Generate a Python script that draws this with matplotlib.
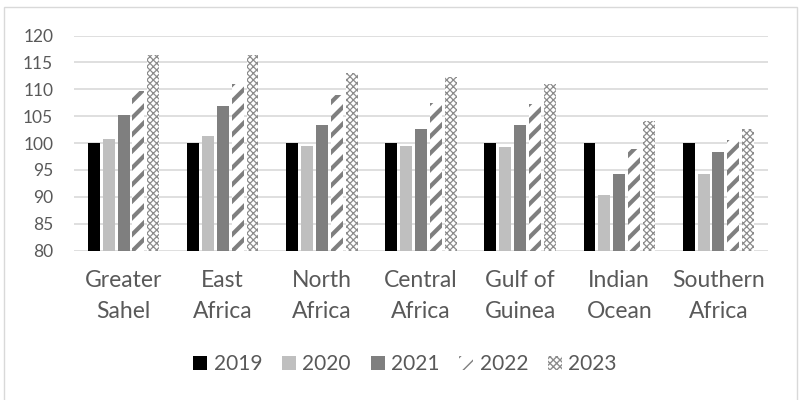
import matplotlib
matplotlib.use("Agg")
import matplotlib.pyplot as plt
import numpy as np
from matplotlib.patches import Rectangle

plt.rcParams['font.family'] = ['Lato', 'DejaVu Sans']

regions = ["Greater\nSahel", "East\nAfrica", "North\nAfrica", "Central\nAfrica",
           "Gulf of\nGuinea", "Indian\nOcean", "Southern\nAfrica"]
years = ["2019", "2020", "2021", "2022", "2023"]
v2019 = [100, 100, 100, 100, 100, 100, 100]
v2020 = [100.7, 101.3, 99.5, 99.5, 99.2, 90.3, 94.2]
v2021 = [105.2, 106.9, 103.4, 102.6, 103.4, 94.2, 98.3]
v2022 = [109.7, 111.0, 108.9, 107.4, 107.2, 98.9, 100.6]
v2023 = [116.4, 116.3, 113.0, 112.3, 111.0, 104.1, 102.7]
yticks = [80, 85, 90, 95, 100, 105, 110, 115, 120]

series = [v2019, v2020, v2021, v2022, v2023]
# (face colour, hatch colour, hatch pattern, hatch line width)
styles = [
    ("#000000", "#000000", None, 1.0),
    ("#BFBFBF", "#BFBFBF", None, 1.0),
    ("#7F7F7F", "#7F7F7F", None, 1.0),
    ("#FFFFFF", "#7F7F7F", "//", 3.0),
    ("#FFFFFF", "#8C8C8C", "xxxxx", 0.9),
]

fig = plt.figure(figsize=(7.99, 4.00), dpi=100)
ax = fig.add_axes([74 / 799, 1 - 250.7 / 400, (768 - 74) / 799, (250.7 - 35.5) / 400])

x = np.arange(len(regions))
width = 0.12
pitch = 0.15
handles = []
for i, (vals, yr, st) in enumerate(zip(series, years, styles)):
    face, hcol, hatch, hlw = st
    with plt.rc_context({'hatch.linewidth': hlw}):
        bars = ax.bar(x + (i - 2) * pitch, np.array(vals) - 80, width, bottom=80,
                      facecolor=face, edgecolor=hcol, hatch=hatch, linewidth=0,
                      zorder=3, label=yr)
    handles.append(bars)

ax.set_xlim(-0.5, len(regions) - 0.5)
ax.set_ylim(80, 120)
ax.set_yticks(yticks)
ax.set_xticks(x)
ax.set_xticklabels(regions, fontsize=16.5, color="#595959", linespacing=1.6)
ax.tick_params(axis='y', labelsize=12.5, colors="#595959", length=0, pad=15)
ax.tick_params(axis='x', length=0, pad=14)
ax.yaxis.grid(True, color="#D9D9D9", linewidth=1.2, zorder=0)
ax.set_axisbelow(True)
for s in ax.spines.values():
    s.set_visible(False)

leg = fig.legend(handles=handles, labels=years, loc="center", ncol=5,
                 bbox_to_anchor=(405 / 799, 1 - 364 / 400), frameon=False,
                 fontsize=15, handlelength=0.68, handleheight=0.68,
                 handletextpad=0.3, columnspacing=0.95)
for t in leg.get_texts():
    t.set_color("#595959")

# chart-area border
fig.patches.append(Rectangle((4 / 799, -0.02), (797 - 4) / 799, 1 - 7 / 400 + 0.02,
                             transform=fig.transFigure, fill=False,
                             edgecolor="#D9D9D9", linewidth=1.0))

fig.savefig("out.png", dpi=100)
